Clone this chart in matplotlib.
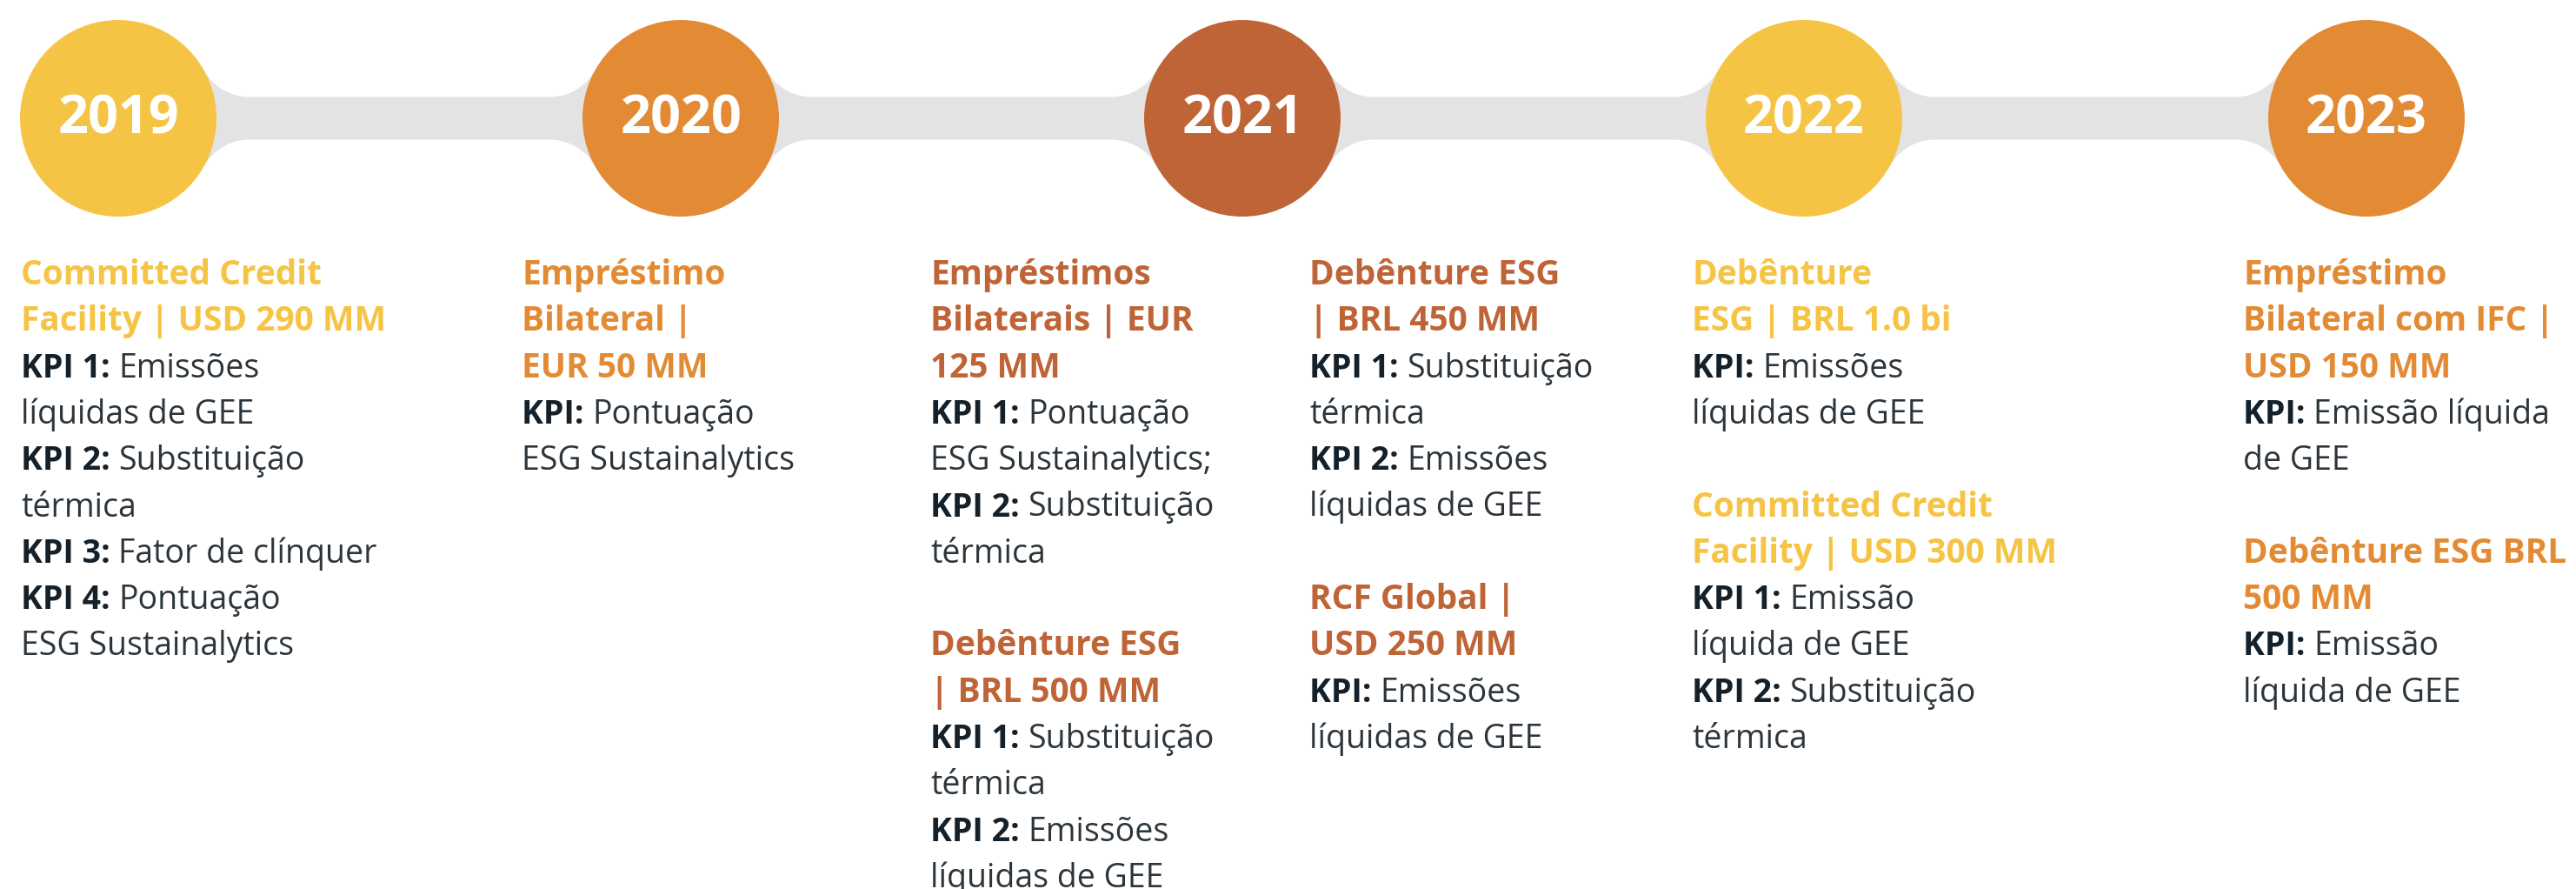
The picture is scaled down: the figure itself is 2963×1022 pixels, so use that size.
import numpy as np
import matplotlib
matplotlib.use('Agg')
import matplotlib.pyplot as plt
from matplotlib.patches import Circle, Polygon

# Dados da linha do tempo
years = ['2019', '2020', '2021', '2022', '2023']
year_colors = ['#F6C445', '#E38B34', '#BF6437', '#F6C445', '#E38B34']

# Cada coluna: (indice do ano, linhas). Linha = ('t', titulo) | ('k', rotulo, texto) | ('b', texto) | ('', '')
col_year = [0, 1, 2, 2, 3, 4]
col_lines = [
    [('t', 'Committed Credit'), ('t', 'Facility | USD 290 MM'),
     ('k', 'KPI 1:', 'Emissões'), ('b', 'líquidas de GEE'),
     ('k', 'KPI 2:', 'Substituição'), ('b', 'térmica'),
     ('k', 'KPI 3:', 'Fator de clínquer'),
     ('k', 'KPI 4:', 'Pontuação'), ('b', 'ESG Sustainalytics')],
    [('t', 'Empréstimo'), ('t', 'Bilateral |'), ('t', 'EUR 50 MM'),
     ('k', 'KPI:', 'Pontuação'), ('b', 'ESG Sustainalytics')],
    [('t', 'Empréstimos'), ('t', 'Bilaterais | EUR'), ('t', '125 MM'),
     ('k', 'KPI 1:', 'Pontuação'), ('b', 'ESG Sustainalytics;'),
     ('k', 'KPI 2:', 'Substituição'), ('b', 'térmica'), ('', ''),
     ('t', 'Debênture ESG'), ('t', '| BRL 500 MM'),
     ('k', 'KPI 1:', 'Substituição'), ('b', 'térmica'),
     ('k', 'KPI 2:', 'Emissões'), ('b', 'líquidas de GEE')],
    [('t', 'Debênture ESG'), ('t', '| BRL 450 MM'),
     ('k', 'KPI 1:', 'Substituição'), ('b', 'térmica'),
     ('k', 'KPI 2:', 'Emissões'), ('b', 'líquidas de GEE'), ('', ''),
     ('t', 'RCF Global |'), ('t', 'USD 250 MM'),
     ('k', 'KPI:', 'Emissões'), ('b', 'líquidas de GEE')],
    [('t', 'Debênture'), ('t', 'ESG | BRL 1.0 bi'),
     ('k', 'KPI:', 'Emissões'), ('b', 'líquidas de GEE'), ('', ''),
     ('t', 'Committed Credit'), ('t', 'Facility | USD 300 MM'),
     ('k', 'KPI 1:', 'Emissão'), ('b', 'líquida de GEE'),
     ('k', 'KPI 2:', 'Substituição'), ('b', 'térmica')],
    [('t', 'Empréstimo'), ('t', 'Bilateral com IFC |'), ('t', 'USD 150 MM'),
     ('k', 'KPI:', 'Emissão líquida'), ('b', 'de GEE'), ('', ''),
     ('t', 'Debênture ESG BRL'), ('t', '500 MM'),
     ('k', 'KPI:', 'Emissão'), ('b', 'líquida de GEE')],
]

# Layout (pixels)
W, H = 2963, 1022
circle_x = [136, 783, 1429, 2075, 2722]
col_x = [24, 600, 1070, 1506, 1946, 2580]
yc, r = 136, 113
band_half, fillet = 24.5, 60
first_base, line_h = 327, 53.3
band_color = '#E3E3E3'
kpi_color = '#14202A'
body_color = '#2C353B'
font = 'Open Sans'
fs_title = 28
fs_body = 27

fig = plt.figure(figsize=(W / 100, H / 100), dpi=100)
ax = fig.add_axes([0, 0, 1, 1])
ax.set_xlim(0, W)
ax.set_ylim(H, 0)
ax.axis('off')


def connector(xa, xb):
    # faixa cinza com cantos arredondados entre dois circulos
    d = np.sqrt((r + fillet) ** 2 - (band_half + fillet) ** 2)
    pts = []
    for side in (-1, 1):
        fa = np.array([xa + d, yc + side * (band_half + fillet)])
        fb = np.array([xb - d, yc + side * (band_half + fillet)])
        ta = np.arctan2(yc - fa[1], xa - fa[0])
        tb = np.arctan2(yc - fb[1], xb - fb[0])
        near = np.arctan2(-side, 0)
        arc_a = [fa + fillet * np.array([np.cos(t), np.sin(t)]) for t in np.linspace(ta, near, 30)]
        arc_b = [fb + fillet * np.array([np.cos(t), np.sin(t)]) for t in np.linspace(near, tb, 30)]
        seg = [np.array([xa, yc])] + arc_a + arc_b + [np.array([xb, yc])]
        if side == 1:
            seg = seg[::-1]
        pts.extend(seg)
    ax.add_patch(Polygon(np.array(pts), closed=True, fc=band_color, ec='none', zorder=1))


for i in range(len(circle_x) - 1):
    connector(circle_x[i], circle_x[i + 1])

for x, yr, c in zip(circle_x, years, year_colors):
    ax.add_patch(Circle((x, yc), r, fc=c, ec='none', zorder=2))
    ax.text(x, yc + 2, yr, ha='center', va='center', color='white',
            fontsize=44, fontweight='bold', family=font, zorder=3)

fig.canvas.draw()
renderer = fig.canvas.get_renderer()

for x0, yi, lines in zip(col_x, col_year, col_lines):
    for j, ln in enumerate(lines):
        y = first_base + j * line_h
        kind = ln[0]
        if kind == 't':
            ax.text(x0, y, ln[1], ha='left', va='baseline', color=year_colors[yi],
                    fontsize=fs_title, fontweight='bold', family=font)
        elif kind == 'k':
            t = ax.text(x0, y, ln[1] + ' ', ha='left', va='baseline', color=kpi_color,
                        fontsize=fs_body, fontweight='bold', family=font)
            bb = t.get_window_extent(renderer)
            x1 = ax.transData.inverted().transform((bb.x1, bb.y0))[0]
            ax.text(x1, y, ln[2], ha='left', va='baseline', color=body_color,
                    fontsize=fs_body, family=font)
        elif kind == 'b':
            ax.text(x0, y, ln[1], ha='left', va='baseline', color=body_color,
                    fontsize=fs_body, family=font)

fig.savefig('out.png', dpi=100, facecolor='white')
